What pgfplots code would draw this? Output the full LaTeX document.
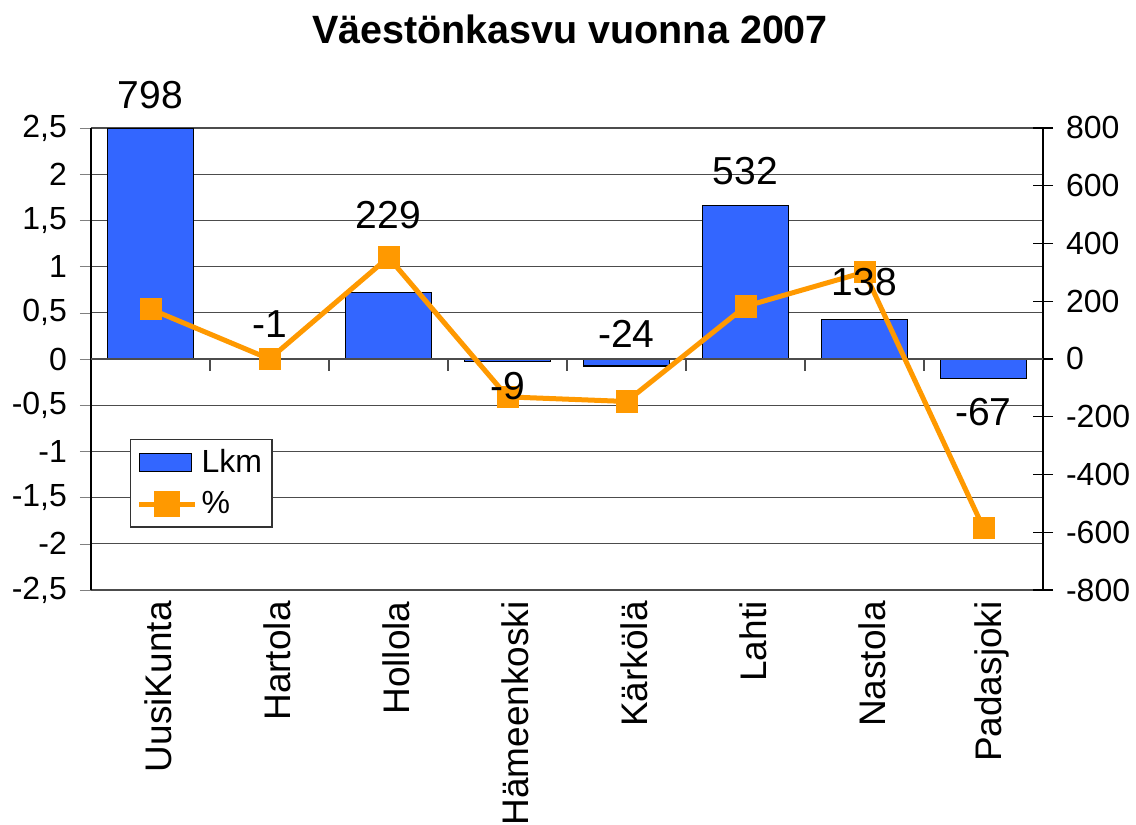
\documentclass[border=0pt]{standalone}
\usepackage{pgfplots}
\pgfplotsset{compat=1.18}
\usepackage{fontspec}
\setmainfont{Liberation Sans}

\definecolor{barblue}{RGB}{51,102,255}
\definecolor{lineorange}{RGB}{255,153,0}

\pgfplotsset{
  base/.style={
    scale only axis,
    width=476pt, height=231pt,
    xmin=-0.5, xmax=7.5,
    clip=false,
    /pgf/number format/assume math mode=true,
    /pgf/number format/use comma,
    tick label style={font=\fontsize{16}{19}\selectfont},
  },
  barleg/.style={legend image code/.code={
    \draw[fill=barblue, draw=black, line width=0.6pt] (0pt,-4.5pt) rectangle (26pt,4.5pt);}},
  lineleg/.style={legend image code/.code={
    \draw[lineorange, line width=2.5pt] (0pt,0pt) -- (28pt,0pt);
    \fill[lineorange] (8.7pt,-5.3pt) rectangle (19.3pt,5.3pt);}},
}

\begin{document}
\begin{tikzpicture}
% left scale: grid, tick labels, category names
\begin{axis}[
    base, name=main,
    ymin=-2.5, ymax=2.5,
    ytick={-2.5,-2,-1.5,-1,-0.5,0,0.5,1,1.5,2,2.5},
    axis y line*=left,
    axis x line*=bottom,
    x axis line style={draw=none},
    y axis line style={black, line width=0.6pt},
    ymajorgrids,
    grid style={black!70, line width=0.6pt},
    tick align=outside,
    major tick length=5.5pt,
    major x tick style={draw=none},
    yticklabel style={xshift=-3pt},
    xtick={0,...,7},
    xticklabels={UusiKunta,Hartola,Hollola,Hämeenkoski,Kärkölä,Lahti,Nastola,Padasjoki},
    xticklabel style={rotate=90, anchor=east, inner sep=0pt, yshift=-4pt,
      font=\fontsize{18.5}{22}\selectfont},
    title={\textbf{Väestönkasvu vuonna 2007}},
    title style={at={(0.5,1)}, anchor=center, yshift=43.5pt, xshift=1.5pt,
      font=\fontsize{19.75}{24}\selectfont},
]
\end{axis}

% right scale: Lkm bars
\begin{axis}[
    base,
    ymin=-800, ymax=800,
    ytick={-800,-600,-400,-200,0,200,400,600,800},
    axis y line*=right,
    axis x line=none,
    y axis line style={black, line width=0.6pt},
    tick align=center,
    major tick length=10pt,
    ytick style={black, line width=0.6pt},
    yticklabel style={xshift=3pt},
]
\addplot[ybar, bar width=0.72, fill=barblue, draw=black, line width=0.6pt] coordinates {
    (0,798) (1,-1) (2,229) (3,-9) (4,-24) (5,532) (6,138) (7,-67)
};
\end{axis}

% left scale: % line, zero axis ticks, data labels
\begin{axis}[
    base,
    ymin=-2.5, ymax=2.5,
    axis y line=none,
    axis x line*=middle,
    x axis line style={black!70, line width=0.6pt},
    xtick={0.5,1.5,...,6.5},
    xticklabels={},
    tick align=outside,
    major tick length=6pt,
    xtick style={black!70, line width=0.6pt},
    legend style={at={(0.041,0.327)}, anchor=north west, draw=black!80,
      line width=0.6pt, font=\fontsize{16}{19}\selectfont,
      row sep=4pt, inner sep=3pt},
    legend cell align=left,
]
\addlegendimage{barleg}
\addlegendentry{Lkm}
\addplot[color=lineorange, line width=2.5pt, mark=square*, mark size=5.3pt,
    mark options={line width=0.4pt}, lineleg] coordinates {
    (0,0.54) (1,0) (2,1.10) (3,-0.41) (4,-0.46) (5,0.57) (6,0.94) (7,-1.83)
};
\addlegendentry{\%}
\addplot[draw=none, mark=none, nodes near coords, point meta=explicit symbolic,
    every node near coord/.append style={anchor=center, inner sep=0pt,
      font=\fontsize{19.5}{23}\selectfont}]
  table[meta=lab] {
x y lab
0 2.856 798
1 0.377 -1
2 1.562 229
3 -0.29 -9
4 0.27 -24
5 2.03 532
6 0.83 138
7 -0.57 -67
};
\end{axis}

\pgfresetboundingbox
\path ([xshift=-45.5pt,yshift=-117.5pt]main.south west) rectangle ([xshift=46.5pt,yshift=64pt]main.north east);
\end{tikzpicture}
\end{document}
